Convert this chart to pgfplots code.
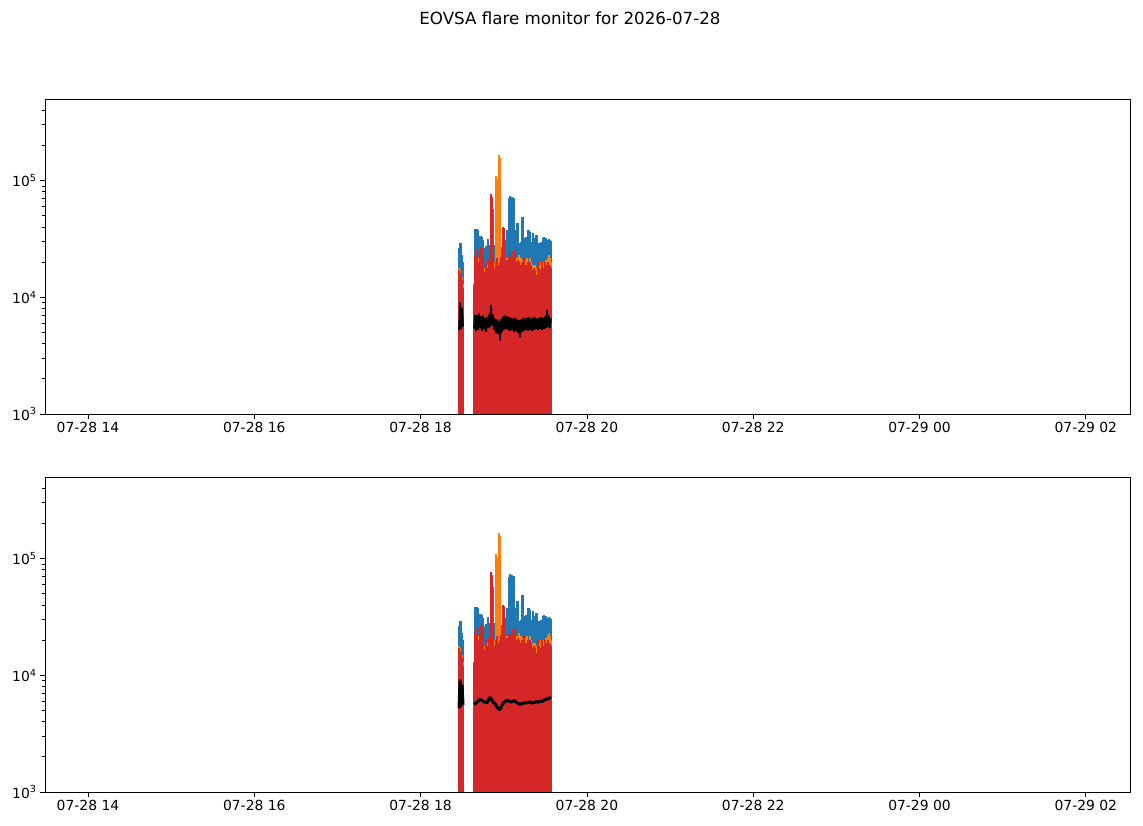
\documentclass[border=0pt]{standalone}
\usepackage{fontspec}
\setmainfont{DejaVu Sans}
\usepackage{pgfplots}
\usepackage{pgfplotstable}
\pgfplotsset{compat=1.18}
\definecolor{cblue}{HTML}{1F77B4}
\definecolor{corange}{HTML}{FF7F0E}
\definecolor{cred}{HTML}{D62728}
% columns: x (hours of 2026-07-28), blue, orange, red, black (top panel), black (bottom panel)
\pgfplotstableread{
x b o r ka kb
18.462 2.62e4 1.77e4 1.70e4 5.2e3 5.2e3
18.474 2.89e4 1.70e4 1.60e4 9.0e3 9.0e3
18.486 2.89e4 1.60e4 1.60e4 5.4e3 5.5e3
18.498 2.29e4 1.50e4 1.40e4 8.0e3 8.2e3
18.510 2.00e4 1.30e4 1.20e4 5.6e3 5.6e3
18.580 nan nan nan nan nan
18.642 1.30e4 1.00e4 1.22e4 5.4e3 5.65e3
18.654 3.81e4 2.15e4 2.29e4 7.0e3 5.7e3
18.666 3.81e4 1.99e4 2.15e4 5.2e3 5.8e3
18.678 3.81e4 2.29e4 2.52e4 6.9e3 5.9e3
18.690 3.74e4 2.15e4 1.99e4 5.3e3 6.0e3
18.702 3.19e4 1.99e4 1.77e4 7.2e3 6.1e3
18.714 3.32e4 2.29e4 2.52e4 5.5e3 6.2e3
18.726 3.32e4 2.15e4 2.68e4 6.8e3 6.15e3
18.738 3.26e4 2.42e4 2.62e4 5.2e3 6.1e3
18.750 3.07e4 1.99e4 2.29e4 6.9e3 6.0e3
18.762 2.62e4 1.70e4 1.64e4 5.4e3 5.95e3
18.774 2.52e4 1.77e4 1.40e4 6.6e3 5.9e3
18.786 2.73e4 1.99e4 1.99e4 5.1e3 5.85e3
18.798 2.42e4 1.70e4 1.77e4 6.7e3 5.8e3
18.810 3.13e4 1.88e4 1.70e4 5.5e3 6.0e3
18.822 2.78e4 1.99e4 2.07e4 7.0e3 6.3e3
18.834 2.52e4 1.77e4 1.88e4 5.6e3 6.45e3
18.846 2.78e4 2.52e4 7.74e4 8.5e3 6.35e3
18.858 3.07e4 2.52e4 7.30e4 5.8e3 6.1e3
18.870 5.76e4 2.29e4 2.52e4 7.0e3 5.9e3
18.882 2.78e4 1.88e4 1.77e4 5.3e3 5.8e3
18.895 2.62e4 1.99e4 1.70e4 6.5e3 5.7e3
18.907 2.78e4 1.10e5 1.99e4 5.0e3 5.55e3
18.919 2.73e4 1.04e5 2.15e4 6.4e3 5.35e3
18.931 2.78e4 1.77e4 1.70e4 4.9e3 5.2e3
18.943 2.52e4 1.64e5 1.88e4 6.2e3 5.1e3
18.955 2.62e4 1.57e5 1.99e4 4.3e3 5.1e3
18.967 2.68e4 2.07e4 2.20e4 6.4e3 5.3e3
18.979 2.68e4 2.15e4 1.99e4 5.1e3 5.55e3
18.991 3.39e4 2.29e4 3.97e4 6.8e3 5.7e3
19.003 3.07e4 2.29e4 3.89e4 5.3e3 5.85e3
19.015 3.07e4 1.99e4 1.77e4 6.9e3 5.95e3
19.027 3.07e4 1.88e4 1.99e4 5.4e3 6.05e3
19.039 3.74e4 2.15e4 2.07e4 6.8e3 6.1e3
19.051 3.74e4 2.07e4 1.91e4 5.3e3 6.05e3
19.063 7.02e4 2.15e4 2.29e4 6.7e3 6.0e3
19.075 7.44e4 1.99e4 2.15e4 5.2e3 5.95e3
19.087 7.02e4 1.99e4 1.90e4 6.6e3 5.9e3
19.099 7.30e4 2.15e4 2.42e4 5.3e3 5.95e3
19.111 7.02e4 1.77e4 1.70e4 6.5e3 6.0e3
19.123 7.15e4 1.99e4 2.15e4 5.1e3 6.05e3
19.135 3.74e4 2.29e4 2.52e4 6.6e3 6.0e3
19.147 3.59e4 1.99e4 1.99e4 5.2e3 5.9e3
19.159 4.29e4 2.15e4 1.88e4 6.4e3 5.8e3
19.171 4.29e4 2.07e4 2.07e4 5.0e3 5.75e3
19.183 2.89e4 2.29e4 1.99e4 6.3e3 5.7e3
19.195 2.89e4 1.99e4 1.64e4 4.6e3 5.65e3
19.207 2.95e4 2.15e4 1.88e4 6.4e3 5.65e3
19.219 4.83e4 2.07e4 1.99e4 5.1e3 5.7e3
19.231 4.83e4 1.88e4 1.70e4 6.6e3 5.75e3
19.243 3.07e4 1.99e4 2.15e4 5.2e3 5.8e3
19.255 3.19e4 1.77e4 1.70e4 6.5e3 5.8e3
19.267 3.26e4 2.07e4 1.88e4 5.3e3 5.85e3
19.279 3.19e4 2.15e4 1.77e4 6.6e3 5.8e3
19.291 3.74e4 1.99e4 1.99e4 5.2e3 5.85e3
19.303 3.74e4 1.99e4 1.70e4 6.7e3 5.9e3
19.315 3.59e4 2.15e4 1.99e4 5.3e3 5.9e3
19.327 2.89e4 1.99e4 1.88e4 6.5e3 5.85e3
19.339 2.95e4 1.77e4 1.70e4 5.2e3 5.8e3
19.351 3.52e4 1.88e4 1.54e4 6.6e3 5.8e3
19.363 3.19e4 1.70e4 1.77e4 5.3e3 5.85e3
19.375 3.07e4 1.88e4 1.70e4 6.7e3 5.9e3
19.387 3.45e4 1.77e4 1.40e4 5.4e3 5.9e3
19.399 3.45e4 1.64e4 1.54e4 6.5e3 5.95e3
19.411 2.89e4 1.70e4 1.99e4 5.3e3 5.9e3
19.423 2.89e4 1.88e4 1.77e4 6.6e3 5.9e3
19.435 2.84e4 1.77e4 1.64e4 5.4e3 5.95e3
19.447 2.95e4 1.99e4 1.70e4 6.7e3 6.0e3
19.459 2.89e4 1.70e4 1.99e4 5.3e3 5.95e3
19.471 3.19e4 1.88e4 1.77e4 6.6e3 6.05e3
19.483 3.26e4 1.99e4 1.70e4 5.4e3 6.1e3
19.495 3.19e4 1.88e4 1.99e4 6.8e3 6.2e3
19.507 3.19e4 2.07e4 1.88e4 5.5e3 6.2e3
19.519 3.07e4 1.99e4 1.77e4 7.7e3 6.25e3
19.531 3.07e4 2.15e4 1.99e4 5.6e3 6.3e3
19.543 3.13e4 2.29e4 1.88e4 6.9e3 6.35e3
19.555 3.07e4 2.15e4 1.84e4 5.5e3 6.4e3
19.567 3.01e4 1.99e4 1.77e4 6.6e3 6.45e3
}\flare
\begin{document}
\begin{tikzpicture}
\useasboundingbox (0,0) rectangle (1143pt,826pt);
\node[font=\fontsize{16.7}{20}\selectfont] at (570pt,808pt) {EOVSA flare monitor for 2026-07-28};
\begin{axis}[
    at={(45pt,412pt)},
    scale only axis, width=1085pt, height=315pt,
    anchor=south west,
    ymode=log, xmin=13.483, xmax=26.531, ymin=1e3, ymax=5e5,
    xtick={14,16,18,20,22,24,26},
    xticklabels={07-28 14,07-28 16,07-28 18,07-28 20,07-28 22,07-29 00,07-29 02},
    ytick={1e3,1e4,1e5},
    yticklabels={10\textsuperscript{3},10\textsuperscript{4},10\textsuperscript{5}},
    minor ytick={2e3,3e3,4e3,5e3,6e3,7e3,8e3,9e3,2e4,3e4,4e4,5e4,6e4,7e4,8e4,9e4,2e5,3e5,4e5},
    tick align=outside, xtick pos=bottom, ytick pos=left,
    major tick length=4.9pt, minor tick length=2.8pt,
    every tick/.style={black, line width=0.8pt},
    axis line style={line width=0.8pt},
    tick label style={font=\fontsize{13.9}{16}\selectfont},
    unbounded coords=jump,
  ]
\addplot[ycomb, cblue, line width=1.6pt] table[x=x,y=b] {\flare};
\addplot[ycomb, corange, line width=1.6pt] table[x=x,y=o] {\flare};
\addplot[ycomb, cred, line width=1.6pt] table[x=x,y=r] {\flare};
\addplot[black, line width=1.8pt, line join=round] table[x=x,y=ka] {\flare};
\end{axis}
\begin{axis}[
    at={(45pt,34pt)},
    scale only axis, width=1085pt, height=315pt,
    anchor=south west,
    ymode=log, xmin=13.483, xmax=26.531, ymin=1e3, ymax=5e5,
    xtick={14,16,18,20,22,24,26},
    xticklabels={07-28 14,07-28 16,07-28 18,07-28 20,07-28 22,07-29 00,07-29 02},
    ytick={1e3,1e4,1e5},
    yticklabels={10\textsuperscript{3},10\textsuperscript{4},10\textsuperscript{5}},
    minor ytick={2e3,3e3,4e3,5e3,6e3,7e3,8e3,9e3,2e4,3e4,4e4,5e4,6e4,7e4,8e4,9e4,2e5,3e5,4e5},
    tick align=outside, xtick pos=bottom, ytick pos=left,
    major tick length=4.9pt, minor tick length=2.8pt,
    every tick/.style={black, line width=0.8pt},
    axis line style={line width=0.8pt},
    tick label style={font=\fontsize{13.9}{16}\selectfont},
    unbounded coords=jump,
  ]
\addplot[ycomb, cblue, line width=1.6pt] table[x=x,y=b] {\flare};
\addplot[ycomb, corange, line width=1.6pt] table[x=x,y=o] {\flare};
\addplot[ycomb, cred, line width=1.6pt] table[x=x,y=r] {\flare};
\addplot[black, line width=3pt, line join=round] table[x=x,y=kb] {\flare};
\end{axis}
\end{tikzpicture}
\end{document}
